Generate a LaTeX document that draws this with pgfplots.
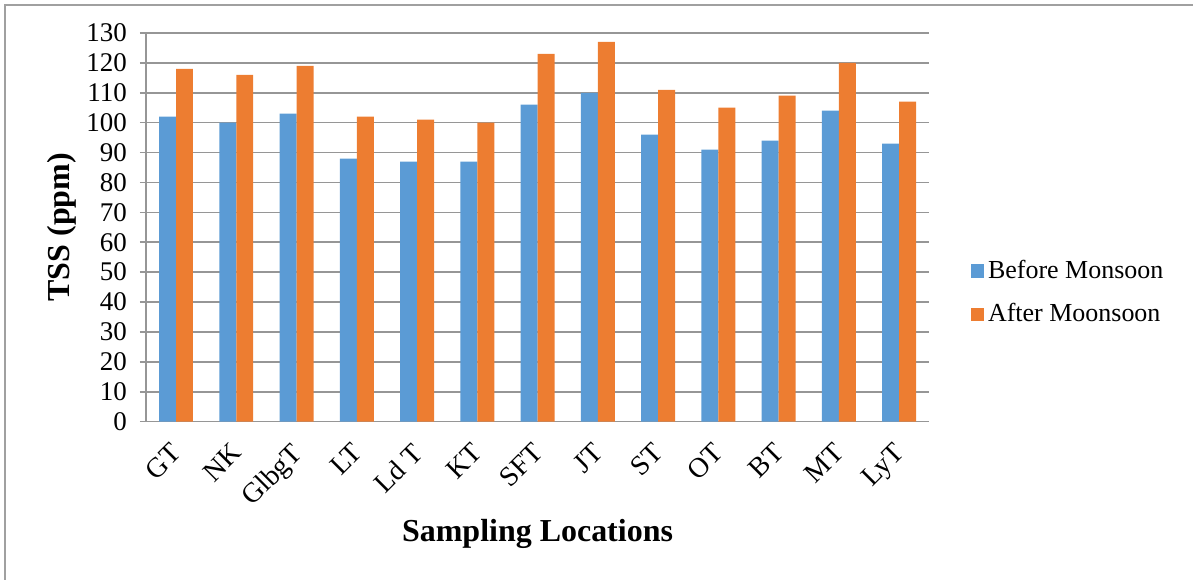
\documentclass[border=0pt]{standalone}
\usepackage{pgfplots}
\pgfplotsset{compat=1.18}
\usepackage{fontspec}
\setmainfont{Liberation Serif}

\definecolor{barblue}{RGB}{91,155,213}
\definecolor{barorange}{RGB}{237,125,49}
\definecolor{gridgray}{RGB}{150,150,150}
\definecolor{framegray}{RGB}{160,160,160}

\begin{document}
\begin{tikzpicture}
% overall canvas and the partial chart-area frame (top and left edges)
\path (-73pt,-79pt) rectangle (524pt,211pt);
\draw[framegray, line width=1pt] (-70.5pt,-79pt) -- (-70.5pt,208.5pt) -- (524pt,208.5pt);
\begin{axis}[
  at={(0,0)}, anchor=south west,
  scale only axis,
  width=392pt, height=194.5pt,
  ybar=0pt,
  bar width=8.5pt,
  xmin=-0.5, xmax=12.5,
  ymin=0, ymax=130,
  ytick={0,10,...,130},
  xtick=data,
  xticklabels={GT,NK,GlbgT,LT,Ld T,KT,SFT,JT,ST,OT,BT,MT,LyT},
  xticklabel style={rotate=45, anchor=north east, inner sep=1pt, font=\fontsize{14}{16}\selectfont, xshift=-6pt, yshift=-1.5pt},
  yticklabel style={font=\fontsize{13.5}{15}\selectfont, xshift=-3pt},
  /pgf/number format/assume math mode=true,
  ymajorgrids,
  grid style={gridgray, line width=0.8pt},
  axis x line*=bottom,
  axis y line*=left,
  axis line style={gridgray, line width=0.8pt, -},
  major x tick style={draw=none},
  ytick style={gridgray, line width=0.8pt},
  ytick align=outside,
  major tick length=3pt,
  ylabel={\bfseries TSS (ppm)},
  ylabel style={font=\fontsize{16}{19}\selectfont, at={(-42pt,0.5)}, anchor=center},
  xlabel={\bfseries Sampling Locations},
  xlabel style={font=\fontsize{16}{19}\selectfont, at={(0.5,-56pt)}, anchor=center},
  legend style={at={(1.045,0.332)}, anchor=west, draw=none, fill=none,
    font=\fontsize{13}{15}\selectfont, row sep=7pt,
    legend cell align=left},
  legend image code/.code={\path[#1] (0pt,-3.3pt) rectangle (6.6pt,3.3pt);},
]
\addplot[fill=barblue, draw=none] coordinates {
  (0,102) (1,100) (2,103) (3,88) (4,87) (5,87) (6,106)
  (7,110) (8,96) (9,91) (10,94) (11,104) (12,93)};
\addplot[fill=barorange, draw=none] coordinates {
  (0,118) (1,116) (2,119) (3,102) (4,101) (5,100) (6,123)
  (7,127) (8,111) (9,105) (10,109) (11,120) (12,107)};
\legend{Before Monsoon, After Moonsoon}
\end{axis}
\end{tikzpicture}
\end{document}
